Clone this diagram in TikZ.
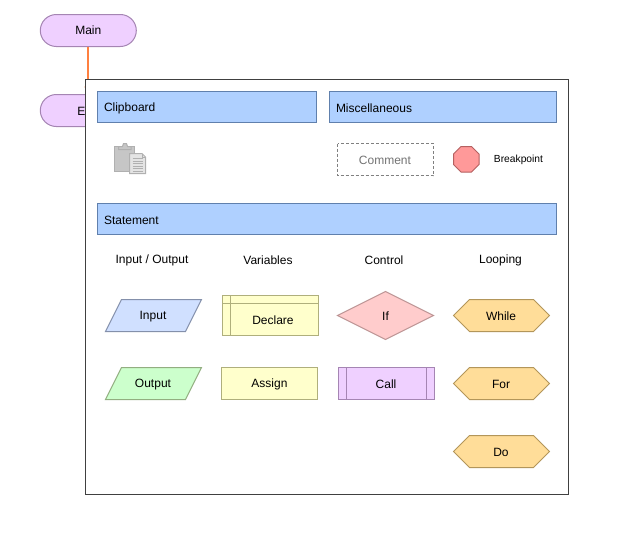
\documentclass[tikz,border=0pt]{standalone}
\usepackage{fontspec}
\setmainfont{Liberation Sans}
\usetikzlibrary{arrows.meta}
\definecolor{linkcol}{RGB}{255,128,64}
\definecolor{purfill}{HTML}{EFD0FF}
\definecolor{purline}{HTML}{A585B3}
\definecolor{headfill}{HTML}{AFD0FF}
\definecolor{headline}{HTML}{6080AD}
\definecolor{infill}{HTML}{D0E0FF}
\definecolor{inshline}{HTML}{8490AB}
\definecolor{outfill}{HTML}{CCFFCC}
\definecolor{outshline}{HTML}{92AE80}
\definecolor{yelfill}{HTML}{FFFFCC}
\definecolor{yelline}{HTML}{AFAF7C}
\definecolor{redfill}{HTML}{FFCCCC}
\definecolor{redline}{HTML}{BC9494}
\definecolor{hexfill}{HTML}{FFDD99}
\definecolor{hexline}{HTML}{B3965A}
\definecolor{brkfill}{HTML}{FF9999}
\definecolor{brkline}{HTML}{B56060}
\definecolor{iconfill}{HTML}{C6C6C6}
\definecolor{iconline}{HTML}{B0B0B0}
\definecolor{docfill}{HTML}{E4E4E4}
\tikzset{
  x=0.75pt,y=-0.75pt,
  every node/.style={inner sep=0pt,outer sep=0pt,yshift=-0.75pt,font=\fontsize{9}{11}\selectfont,text=black},
  pill/.style={draw=purline,line width=0.75pt,fill=purfill,rounded corners=12pt,minimum width=72pt,minimum height=24pt,yshift=0.75pt},
  linkline/.style={draw=linkcol,fill=linkcol,line width=1.5pt},
  thin1/.style={line width=0.75pt},
  panel/.style={thin1,draw=black!75,fill=white},
  headbox/.style={thin1,draw=headline,fill=headfill},
  inshape/.style={thin1,draw=inshline,fill=infill},
  outshape/.style={thin1,draw=outshline,fill=outfill},
  yelshape/.style={thin1,draw=yelline,fill=yelfill},
  redshape/.style={thin1,draw=redline,fill=redfill},
  purshape/.style={thin1,draw=purline,fill=purfill},
  hexshape/.style={thin1,draw=hexline,fill=hexfill},
  icon/.style={thin1,draw=iconline,fill=iconfill},
}
\begin{document}
\begin{tikzpicture}
\useasboundingbox (0,0) rectangle (643,547);
\node[pill] (main) at (88.3,30.5) {\raisebox{-0.75pt}{Main}};
\node[pill] (endn) at (88.3,110.5) {};
\node (endtext) at (81.5,110.5) {E};
\draw[linkline,-{Triangle[length=6pt,width=5.5pt]}] (main.south) -- (endn.north);
% panel
\draw[panel] (85.5,79.5) rectangle (568.5,494.5);
% headers
\draw[headbox] (97.5,91.5) rectangle (316.5,122.5);
\node[anchor=west] (hclip) at (104,107.5) {Clipboard};
\draw[headbox] (329.5,91.5) rectangle (556.5,122.5);
\node[anchor=west] (hmisc) at (336,107.5) {Miscellaneous};
\draw[headbox] (97.5,203.5) rectangle (556.5,234.5);
\node[anchor=west] (hstat) at (104,219.5) {Statement};
% clipboard icon
\draw[icon] (114.5,146.5) rectangle (134.5,171);
\draw[icon] (118.5,146.5) -- (122.5,146.5) -- (123.5,143.5) -- (126.5,143.5) -- (127.5,146.5) -- (131,146.5) -- (131,149.5) -- (118.5,149.5) -- cycle;
\draw[thin1,draw=iconline,fill=docfill] (129.5,153.5) -- (142,153.5) -- (145.5,157) -- (145.5,173.5) -- (129.5,173.5) -- cycle;
\draw[thin1,draw=iconline] (142,153.5) -- (142,157) -- (145.5,157);
\foreach \yy in {158.5,161,163.5,166,168.5,171}{\draw[draw=iconline,line width=0.5pt] (132.5,\yy) -- (142.5,\yy);}
% misc
\draw[draw=black!50,dash pattern=on 2.25pt off 1.5pt,line width=0.6pt,fill=white] (337.5,143.5) rectangle (433.5,175.5);
\node[text=black!55] (comment) at (385,159.5) {Comment};
\draw[thin1,draw=brkline,fill=brkfill] (461,146.5) -- (471.5,146.5) -- (479,154) -- (479,164.5) -- (471.5,172) -- (461,172) -- (453.5,164.5) -- (453.5,154) -- cycle;
\node[font=\fontsize{7.7}{9}\selectfont] (breakpoint) at (518.5,159) {Breakpoint};
% column titles
\node (t1) at (152,259.5) {Input / Output};
\node (t2) at (268,259.5) {Variables};
\node (t3) at (384,259.5) {Control};
\node (t4) at (500.5,259.5) {Looping};
% input output
\draw[inshape] (121.5,299.5) -- (201.5,299.5) -- (185.5,331.5) -- (105.5,331.5) -- cycle;
\node (input) at (153,315.5) {Input};
\draw[outshape] (121.5,367.5) -- (201.5,367.5) -- (185.5,399.5) -- (105.5,399.5) -- cycle;
\node (output) at (153,383.5) {Output};
% variables
\draw[yelshape] (222.5,295.5) rectangle (318.5,335.5);
\draw[thin1,draw=yelline] (230.5,295.5) -- (230.5,335.5);
\draw[thin1,draw=yelline] (222.5,303.5) -- (318.5,303.5);
\node (declare) at (273,319.5) {Declare};
\draw[yelshape] (221.5,367.5) rectangle (317.5,399.5);
\node (assign) at (269.5,383.5) {Assign};
% control
\draw[redshape] (385.5,291.5) -- (433.5,315.5) -- (385.5,339.5) -- (337.5,315.5) -- cycle;
\node (ifn) at (385.5,315.5) {If};
\draw[purshape] (338.5,367.5) rectangle (434.5,399.5);
\draw[thin1,draw=purline] (346.5,367.5) -- (346.5,399.5);
\draw[thin1,draw=purline] (426.5,367.5) -- (426.5,399.5);
\node (call) at (386,383.5) {Call};
% looping
\draw[hexshape] (469.5,299.5) -- (533.5,299.5) -- (549.5,315.5) -- (533.5,331.5) -- (469.5,331.5) -- (453.5,315.5) -- cycle;
\node (while) at (501,315.5) {While};
\draw[hexshape] (469.5,367.5) -- (533.5,367.5) -- (549.5,383.5) -- (533.5,399.5) -- (469.5,399.5) -- (453.5,383.5) -- cycle;
\node (for) at (501,383.5) {For};
\draw[hexshape] (469.5,435.5) -- (533.5,435.5) -- (549.5,451.5) -- (533.5,467.5) -- (469.5,467.5) -- (453.5,451.5) -- cycle;
\node (don) at (501,451.5) {Do};
\end{tikzpicture}
\end{document}
